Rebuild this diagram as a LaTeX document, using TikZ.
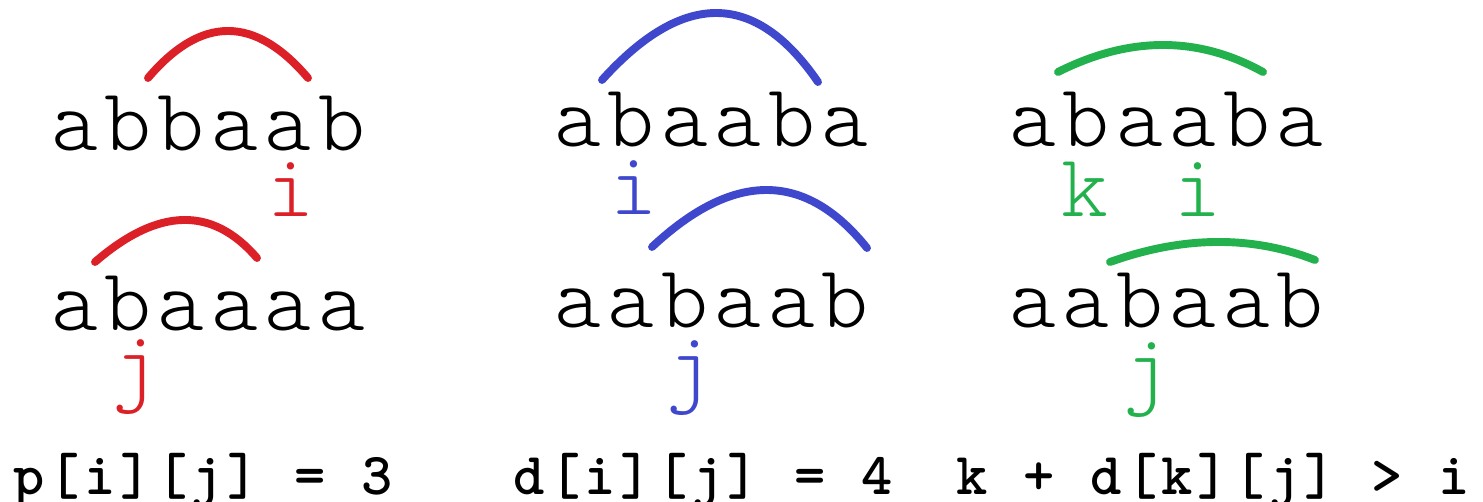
\documentclass[tikz,border=0pt]{standalone}
\usepackage{fontspec}
\setmonofont{lmmonolt10}[Extension=.otf, UprightFont=*-regular, BoldFont=*-bold, LetterSpace=7.5]
\definecolor{hatred}{HTML}{DC2028}
\definecolor{hatblue}{HTML}{3F48CC}
\definecolor{hatgreen}{HTML}{22B14C}

\begin{document}
\begin{tikzpicture}[x=0.02cm,y=-0.02cm,font=\ttfamily]
  \tikzstyle{word}=[font={\ttfamily\fontsize{50.7}{51}\selectfont}, text=black, anchor=base west, inner sep=0pt]
  \tikzstyle{idx}=[word]
  \tikzstyle{formula}=[font={\ttfamily\bfseries\fontsize{33.9}{34}\selectfont}, text=black, anchor=base west, inner sep=0pt]
  \tikzstyle{hat}=[line width=4.5pt, line cap=round]

  \path[use as bounding box] (0,0) rectangle (1483,502);

  \foreach \n/\x/\ya/\yb/\sa/\sb in {1/50.7/151/331/abbaab/abaaaa, 2/554/147/328/abaaba/aabaab, 3/1009/147/328/abaaba/aabaab} {
    \node[word] (top\n) at (\x,\ya) {\sa};
    \node[word] (bot\n) at (\x,\yb) {\sb};
  }

  \node[idx, text=hatred] (i1) at (267,217) {i};
  \node[idx, text=hatred] (j1) at (112,394) {j};
  \node[idx, text=hatblue] (i2) at (610.6,215) {i};
  \node[idx, text=hatblue] (j2) at (666,395) {j};
  \node[idx, text=hatgreen] (k3) at (1061.6,217) {k};
  \node[idx, text=hatgreen] (i3) at (1173.8,217) {i};
  \node[idx, text=hatgreen] (j3) at (1123,397) {j};

  \node[formula] (f1) at (12.8,495) {p[i][j] = 3};
  \node[formula] (f2) at (513,495) {d[i][j] = 4};
  \node[formula] (f3) at (956,495) {k + d[k][j] > i};

  \draw[hat, hatred] (148,78) .. controls (201.3,15.3) and (254.7,15.3) .. (308,78);
  \draw[hat, hatred] (95,262) .. controls (158.3,207.3) and (212.3,206) .. (257,258);
  \draw[hat, hatblue] (602,80) .. controls (683.3,-10) and (755.3,-9.3) .. (818,82);
  \draw[hat, hatblue] (652,247) .. controls (733.7,170.7) and (805.3,171) .. (867,248);
  \draw[hat, hatgreen] (1058,72) .. controls (1129.7,36) and (1198,36) .. (1263,72);
  \draw[hat, hatgreen] (1110,262) .. controls (1183,236) and (1251.3,235.3) .. (1315,260);
\end{tikzpicture}
\end{document}
